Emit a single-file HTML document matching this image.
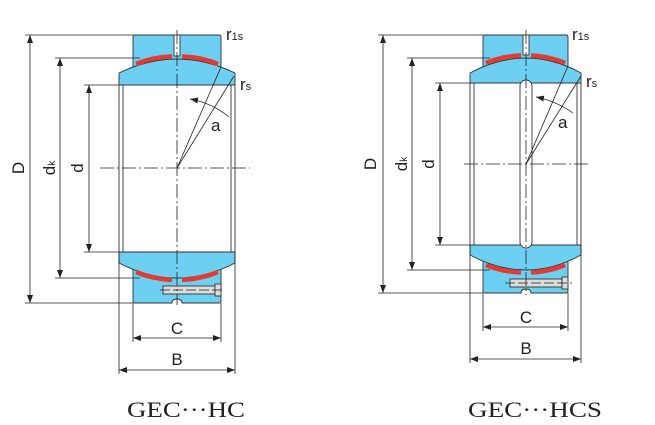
<!DOCTYPE html>
<html><head><meta charset="utf-8"><style>
html,body{margin:0;padding:0;background:#fff;width:655px;height:425px;overflow:hidden}
svg{display:block}
text{font-family:"Liberation Sans",sans-serif;fill:#222}
</style></head><body>
<svg width="655" height="425" viewBox="0 0 655 425" xmlns="http://www.w3.org/2000/svg">
<defs>
<marker id="ar" markerWidth="8" markerHeight="6" refX="8" refY="3" orient="auto-start-reverse" markerUnits="userSpaceOnUse"><path d="M0,0 L8,3 L0,6 Z" fill="#222"/></marker>
</defs>
<g stroke="#333" stroke-width="0.9">
<path d="M133,37 Q133,35 135,35 H219 Q221,35 221,37 V70 H133 Z" fill="#6dcff2"/>
<path d="M119,73 Q177,45 235,73 V85 H119 Z" fill="#6dcff2"/>
<path d="M133,266 H221 V301 Q221,303 219,303 H182 Q182,299 177,299 Q172,299 172,303 H135 Q133,303 133,301 Z" fill="#6dcff2"/>
<path d="M119,252 H235 V263 Q177,293 119,263 Z" fill="#6dcff2"/>
<rect x="163" y="286" width="52" height="8" fill="#ddd"/>
<rect x="215" y="284" width="6" height="12" fill="#ddd"/>
<line x1="123" y1="85" x2="123" y2="252"/><line x1="231" y1="85" x2="231" y2="252"/>
<line x1="119" y1="85" x2="119" y2="252"/><line x1="235" y1="85" x2="235" y2="252"/>
<path d="M483,37 Q483,35 485,35 H566 Q568,35 568,37 V70 H483 Z" fill="#6dcff2"/>
<path d="M470,73 Q526,43 581,73 V83 H470 Z" fill="#6dcff2"/>
<path d="M483,258 H568 V291 Q568,293 566,293 H531 Q531,289 526,289 Q521,289 521,293 H485 Q483,293 483,291 Z" fill="#6dcff2"/>
<path d="M470,245 H581 V255 Q526,285 470,255 Z" fill="#6dcff2"/>
<rect x="510" y="279" width="52" height="8" fill="#ddd"/>
<rect x="562" y="277" width="6" height="12" fill="#ddd"/>
<rect x="520" y="80" width="12" height="168" rx="6" fill="#fff"/>
<line x1="474" y1="83" x2="474" y2="245"/><line x1="577" y1="83" x2="577" y2="245"/>
<line x1="470" y1="83" x2="470" y2="245"/><line x1="581" y1="83" x2="581" y2="245"/>
</g>
<g stroke="#e53a2f" stroke-width="4.5" fill="none">
<path d="M136,64 Q153,57 172,56.5"/><path d="M218,64 Q201,57 182,56.5"/>
<path d="M136,272 Q153,279 172,280"/><path d="M218,272 Q201,279 182,280"/>
<path d="M486,63 Q503,56 521,55.5"/><path d="M565,63 Q548,56 531,55.5"/>
<path d="M486,265 Q503,272 521,272.5"/><path d="M565,265 Q548,272 531,272.5"/>
</g>
<g stroke="#333" stroke-width="0.9" fill="#fff">
<rect x="174" y="35" width="6" height="21"/>
<rect x="523" y="35" width="6" height="20"/>
</g>
<g stroke="#222" stroke-width="0.8" fill="none">
<line x1="177" y1="30" x2="177" y2="305" stroke-dasharray="14,3,2,3"/>
<line x1="100" y1="168" x2="250" y2="168" stroke-dasharray="14,3,2,3"/>
<line x1="177" y1="168" x2="221" y2="67"/><line x1="177" y1="168" x2="234" y2="76"/>
<path d="M190,99 Q212,103 229,117" marker-start="url(#ar)" stroke-width="0.7"/>
<line x1="160" y1="290" x2="225" y2="290" stroke-dasharray="10,3"/>
<line x1="25" y1="35" x2="133" y2="35"/><line x1="25" y1="303" x2="133" y2="303"/>
<line x1="30" y1="35" x2="30" y2="303" marker-start="url(#ar)" marker-end="url(#ar)"/>
<line x1="55" y1="58" x2="140" y2="58"/><line x1="55" y1="278" x2="140" y2="278"/>
<line x1="60" y1="58" x2="60" y2="278" marker-start="url(#ar)" marker-end="url(#ar)"/>
<line x1="84" y1="85" x2="119" y2="85"/><line x1="84" y1="252" x2="119" y2="252"/>
<line x1="89" y1="85" x2="89" y2="252" marker-start="url(#ar)" marker-end="url(#ar)"/>
<line x1="133" y1="303" x2="133" y2="342"/><line x1="221" y1="303" x2="221" y2="342"/>
<line x1="133" y1="338" x2="221" y2="338" marker-start="url(#ar)" marker-end="url(#ar)"/>
<line x1="119" y1="252" x2="119" y2="374"/><line x1="235" y1="252" x2="235" y2="374"/>
<line x1="119" y1="370" x2="235" y2="370" marker-start="url(#ar)" marker-end="url(#ar)"/>
<line x1="526" y1="30" x2="526" y2="295" stroke-dasharray="14,3,2,3"/>
<line x1="464" y1="164" x2="588" y2="164" stroke-dasharray="14,3,2,3"/>
<line x1="526" y1="164" x2="568" y2="66"/><line x1="526" y1="164" x2="581" y2="76"/>
<path d="M536,97 Q556,101 573,113" marker-start="url(#ar)" stroke-width="0.7"/>
<line x1="505" y1="283" x2="572" y2="283" stroke-dasharray="10,3"/>
<line x1="378" y1="35" x2="483" y2="35"/><line x1="378" y1="293" x2="483" y2="293"/>
<line x1="383" y1="35" x2="383" y2="293" marker-start="url(#ar)" marker-end="url(#ar)"/>
<line x1="407" y1="58" x2="490" y2="58"/><line x1="407" y1="270" x2="490" y2="270"/>
<line x1="412" y1="58" x2="412" y2="270" marker-start="url(#ar)" marker-end="url(#ar)"/>
<line x1="435" y1="83" x2="470" y2="83"/><line x1="435" y1="245" x2="470" y2="245"/>
<line x1="440" y1="83" x2="440" y2="245" marker-start="url(#ar)" marker-end="url(#ar)"/>
<line x1="483" y1="293" x2="483" y2="331"/><line x1="568" y1="293" x2="568" y2="331"/>
<line x1="483" y1="327" x2="568" y2="327" marker-start="url(#ar)" marker-end="url(#ar)"/>
<line x1="470" y1="245" x2="470" y2="363"/><line x1="581" y1="245" x2="581" y2="363"/>
<line x1="470" y1="359" x2="581" y2="359" marker-start="url(#ar)" marker-end="url(#ar)"/>
</g>
<g font-size="17">
<text transform="translate(24,168) rotate(-90)" text-anchor="middle">D</text>
<text transform="translate(55,168) rotate(-90)" text-anchor="middle">d<tspan font-size="10">k</tspan></text>
<text transform="translate(83,168) rotate(-90)" text-anchor="middle">d</text>
<text x="177" y="334" text-anchor="middle">C</text>
<text x="177" y="365" text-anchor="middle">B</text>
<text x="226" y="40">r<tspan font-size="11">1s</tspan></text>
<text x="240" y="90">r<tspan font-size="11">s</tspan></text>
<text x="211" y="131">a</text>
<text transform="translate(376,164) rotate(-90)" text-anchor="middle">D</text>
<text transform="translate(407,164) rotate(-90)" text-anchor="middle">d<tspan font-size="10">k</tspan></text>
<text transform="translate(434,164) rotate(-90)" text-anchor="middle">d</text>
<text x="526" y="323" text-anchor="middle">C</text>
<text x="526" y="354" text-anchor="middle">B</text>
<text x="572" y="40">r<tspan font-size="11">1s</tspan></text>
<text x="586" y="87">r<tspan font-size="11">s</tspan></text>
<text x="558" y="128">a</text>
</g>
<g font-size="22">
<text x="127" y="417" textLength="118" lengthAdjust="spacingAndGlyphs" style="font-family:'Liberation Serif',serif">GEC···HC</text>
<text x="468" y="417" textLength="134" lengthAdjust="spacingAndGlyphs" style="font-family:'Liberation Serif',serif">GEC···HCS</text>
</g>
</svg>
</body></html>
